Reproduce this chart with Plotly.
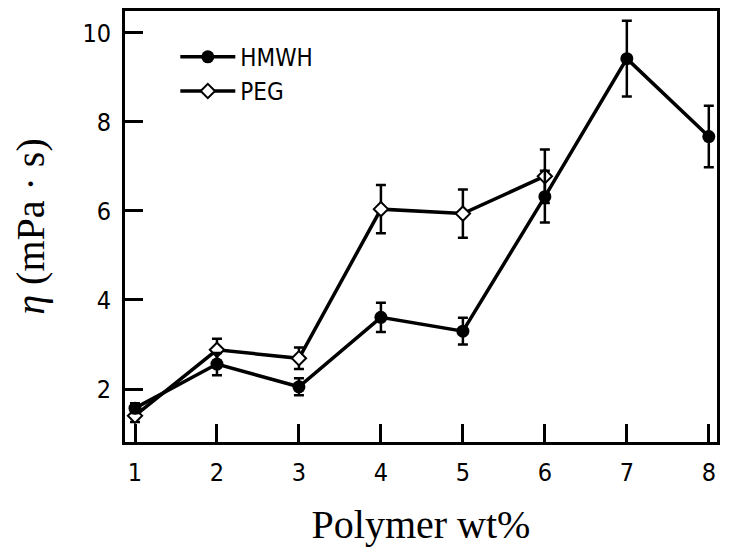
import plotly.graph_objects as go

x_vals = [1, 2, 3, 4, 5, 6, 7, 8]
hmwh = [1.57, 2.56, 2.05, 3.61, 3.30, 6.32, 9.42, 7.67]
hmwh_err = [0.11, 0.25, 0.19, 0.33, 0.30, 0.58, 0.85, 0.69]
peg_x = [1, 2, 3, 4, 5, 6]
peg = [1.40, 2.88, 2.69, 6.04, 5.94, 6.78]
peg_err = [0.14, 0.25, 0.24, 0.54, 0.54, 0.60]
y_ticks = [2, 4, 6, 8, 10]

sans = "DejaVu Sans Condensed, Liberation Sans"
tick_font = dict(family=sans, size=25, color="black")
serif = "Liberation Serif"

fig = go.Figure()
fig.add_trace(go.Scatter(
    x=peg_x, y=peg, name="PEG", mode="lines+markers",
    line=dict(color="black", width=3.5),
    marker=dict(symbol="diamond", size=11, color="white", line=dict(color="black", width=2)),
    error_y=dict(type="data", array=peg_err, color="black", thickness=2.5, width=5),
))
fig.add_trace(go.Scatter(
    x=x_vals, y=hmwh, name="HMWH", mode="lines+markers",
    line=dict(color="black", width=3.5),
    marker=dict(symbol="circle", size=13, color="black"),
    error_y=dict(type="data", array=hmwh_err, color="black", thickness=2.5, width=5),
))

axis_common = dict(
    ticks="inside", ticklen=18, tickwidth=3, tickcolor="black",
    showline=True, linewidth=3, linecolor="black", mirror=True,
    showgrid=False, zeroline=False, tickfont=tick_font, automargin=False,
)

# page body has an 8px margin, so the figure is shifted by 8px
fig.update_layout(
    width=713, height=539,
    margin=dict(l=117, r=4, t=3, b=105),
    plot_bgcolor="white", paper_bgcolor="white",
    showlegend=True,
    legend=dict(x=0.085, y=0.945, xanchor="left", yanchor="top", traceorder="reversed",
                font=dict(family=sans, size=24, color="black"),
                bgcolor="rgba(0,0,0,0)", itemwidth=55, tracegroupgap=0),
    xaxis=dict(range=[0.878, 8.1], tickvals=x_vals, ticktext=[str(v) for v in x_vals],
               ticklabelstandoff=6,
               title=dict(text="Polymer wt%", font=dict(family=serif, size=40, color="black"), standoff=26),
               **axis_common),
    yaxis=dict(range=[0.81, 10.49], tickvals=y_ticks, ticklabelstandoff=6,
               title=dict(text="<i>η</i> (mPa · s)", font=dict(family=serif, size=40, color="black"), standoff=29),
               **axis_common),
)

fig.write_html("out.html")
